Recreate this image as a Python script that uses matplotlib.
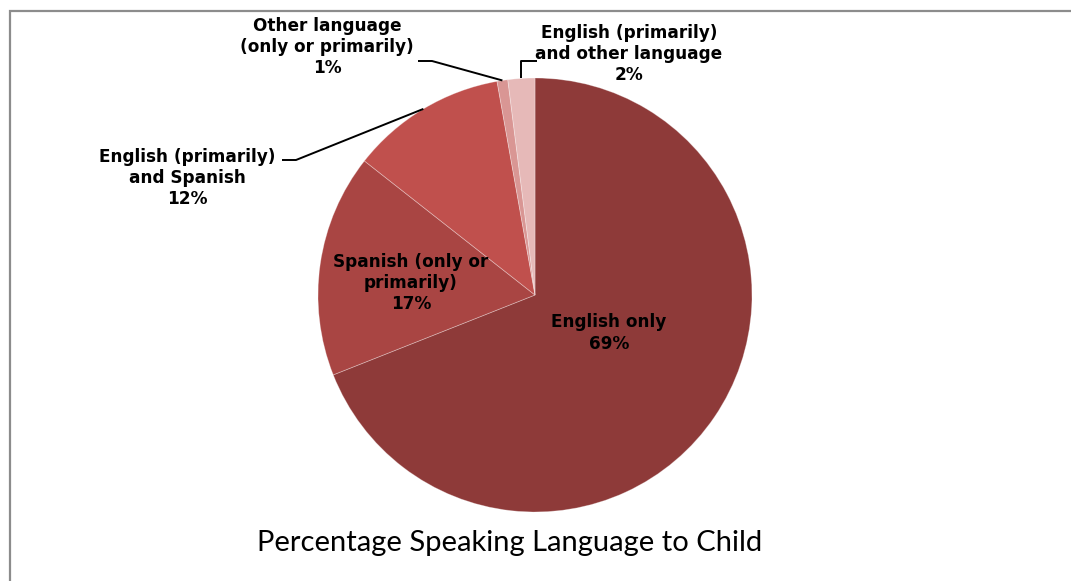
import numpy as np
import matplotlib
matplotlib.use("Agg")
import matplotlib.pyplot as plt
from matplotlib.patches import Rectangle

# data
categories = ["English only", "Spanish (only or\nprimarily)", "English (primarily)\nand Spanish",
              "Other language\n(only or primarily)", "English (primarily)\nand other language"]
shares = [69.0, 16.6, 11.6, 0.8, 2.0]
colors = ["#8E3A39", "#A94543", "#C0504D", "#D99694", "#E6B9B8"]
title = "Percentage Speaking Language to Child"

W, H = 1071, 581
fig = plt.figure(figsize=(W / 100, H / 100), dpi=100)
ax = fig.add_axes([0, 0, 1, 1])

cx, cy, r = 535, H - 295, 217
wedges, _ = ax.pie(shares, colors=colors, startangle=90, counterclock=False,
                   center=(cx, cy), radius=r, frame=True,
                   wedgeprops=dict(linewidth=0.6, edgecolor="#ffffff55"))
ax.set_xlim(0, W)
ax.set_ylim(0, H)
ax.set_aspect('equal')
ax.axis('off')

def edge_point(w, frac=1.0):
    ang = np.deg2rad((w.theta1 + w.theta2) / 2)
    return cx + frac * r * np.cos(ang), cy + frac * r * np.sin(ang)

labels = [c + "\n%d%%" % round(s) for c, s in zip(categories, shares)]
lbl_font = dict(fontsize=12.2, fontweight='bold', family='DejaVu Sans',
                ha='center', va='center', linespacing=1.22, color='black')

# inside labels
ax.text(609, H - 333, labels[0], **lbl_font)
ax.text(411, H - 283, labels[1], **lbl_font)
# outside labels with leader lines
ax.text(187, H - 178, labels[2], **lbl_font)
ax.text(327, H - 47, labels[3], **lbl_font)
ax.text(629, H - 54, labels[4], **lbl_font)

lc = dict(color='black', lw=1.4, solid_capstyle='butt')
px, py = edge_point(wedges[2])
ax.plot([282, 296, px], [H - 160, H - 160, py], **lc)
px, py = edge_point(wedges[3])
ax.plot([418, 432, px], [H - 61, H - 61, py], **lc)
px, py = edge_point(wedges[4])
ax.plot([537, px, px], [H - 61, H - 61, py], **lc)

ax.text(510, H - 543, title, fontsize=21, family='Lato', ha='center', va='center')

# chart frame
ax.add_patch(Rectangle((9.5, -20), W + 20, H - 10.5 + 20, fill=False,
                       edgecolor='#8c8c8c', lw=1.6))

fig.savefig("out.png", dpi=100)
